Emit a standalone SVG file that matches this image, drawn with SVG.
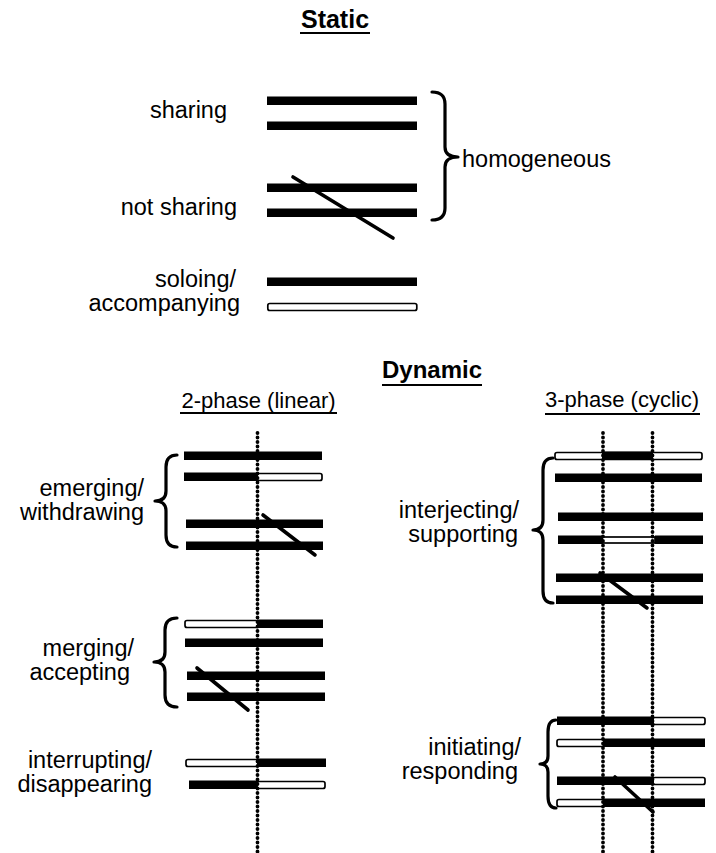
<svg xmlns="http://www.w3.org/2000/svg" width="716" height="853" viewBox="0 0 716 853">
  <style>
    text { font-family: "Liberation Sans", Arial, Helvetica, sans-serif; fill: #000; }
    .lbl { font-size: 23.5px; text-anchor: end; }
    .head { font-size: 25px; font-weight: bold; text-anchor: middle; }
    .sub { font-size: 22px; text-anchor: middle; }
    .ul { stroke: #000; stroke-width: 2.2; }
    .bk { fill: #000; }
    .wh { fill: #fff; stroke: #000; stroke-width: 1.7; }
    .slash { stroke: #000; stroke-width: 3.6; stroke-linecap: round; }
    .brace { fill: none; stroke: #000; stroke-width: 3.2; stroke-linecap: round; stroke-linejoin: round; }
    .dots { stroke: #000; stroke-width: 3.8; stroke-linecap: round; stroke-dasharray: 0 4.5; }
  </style>

  <!-- headings -->
  <g id="static-title">
    <text class="head" x="335" y="28">Static</text>
    <line class="ul" x1="300" y1="33" x2="370" y2="33"/>
  </g>
  <g id="dynamic-title">
    <text class="head" x="432" y="378" style="font-size:24px">Dynamic</text>
    <line class="ul" x1="382" y1="385" x2="482" y2="385"/>
  </g>
  <g id="two-phase-title">
    <text class="sub" x="258.5" y="408">2-phase (linear)</text>
    <line class="ul" x1="180" y1="413" x2="337" y2="413"/>
  </g>
  <g id="three-phase-title">
    <text class="sub" x="622" y="407">3-phase (cyclic)</text>
    <line class="ul" x1="545" y1="414" x2="700" y2="414"/>
  </g>

  <!-- static: sharing -->
  <g id="sharing">
    <text class="lbl" x="227" y="118">sharing</text>
    <rect class="bk" x="267" y="96.5" width="150" height="8.5"/>
    <rect class="bk" x="267" y="121.5" width="150" height="8.5"/>
  </g>
  <g id="not-sharing">
    <text class="lbl" x="237" y="215">not sharing</text>
    <rect class="bk" x="267" y="183.5" width="150" height="8.5"/>
    <rect class="bk" x="267" y="208.5" width="150" height="8.5"/>
    <line class="slash" x1="293" y1="177" x2="393" y2="238"/>
  </g>
  <g id="homogeneous">
    <path class="brace" d="M432,92 Q445,92 445,104 L445,147 Q445,157 458,157 Q445,157 445,167 L445,208 Q445,220 432,220"/>
    <text x="462" y="167" style="font-size:23.5px">homogeneous</text>
  </g>
  <g id="soloing">
    <text class="lbl" x="236" y="287">soloing/</text>
    <text class="lbl" x="240" y="311">accompanying</text>
    <rect class="bk" x="267" y="277.5" width="150" height="8.5"/>
    <rect class="wh" x="267.8" y="303.5" width="149" height="7" rx="2"/>
  </g>

  <!-- 2-phase (linear) -->
  <g id="emerging">
    <text class="lbl" x="144" y="496">emerging/</text>
    <text class="lbl" x="144" y="520">withdrawing</text>
    <path class="brace" d="M177,455 Q166,455 166,467 L166,491 Q166,501 155,501 Q166,501 166,511 L166,535 Q166,547 177,547"/>
    <rect class="bk" x="184" y="451.5" width="138" height="8.5"/>
    <rect class="wh" x="257" y="473.5" width="65" height="7" rx="2"/>
    <rect class="bk" x="184" y="472.5" width="74" height="8.5"/>
    <rect class="bk" x="186" y="519.5" width="137" height="8.5"/>
    <rect class="bk" x="186" y="541.5" width="137" height="8.5"/>
    <line class="slash" x1="263" y1="515" x2="315" y2="555"/>
  </g>
  <g id="merging">
    <text class="lbl" x="134" y="656">merging/</text>
    <text class="lbl" x="130" y="680">accepting</text>
    <path class="brace" d="M177,618 Q165,618 165,630 L165,652 Q165,662 154,662 Q165,662 165,672 L165,695 Q165,707 177,707"/>
    <rect class="wh" x="185" y="620.5" width="73" height="7" rx="2"/>
    <rect class="bk" x="257" y="619.5" width="66" height="8.5"/>
    <rect class="bk" x="185" y="638.5" width="138" height="8.5"/>
    <rect class="bk" x="187" y="671.5" width="138" height="8.5"/>
    <rect class="bk" x="187" y="692.5" width="138" height="8.5"/>
    <line class="slash" x1="197" y1="668" x2="248" y2="710"/>
  </g>
  <g id="interrupting">
    <text class="lbl" x="152" y="768">interrupting/</text>
    <text class="lbl" x="152" y="792">disappearing</text>
    <rect class="wh" x="186" y="759.5" width="72" height="7" rx="2"/>
    <rect class="bk" x="257" y="758.5" width="69" height="8.5"/>
    <rect class="bk" x="189" y="780.5" width="69" height="8.5"/>
    <rect class="wh" x="257" y="781.5" width="68" height="7" rx="2"/>
  </g>

  <!-- 3-phase (cyclic) -->
  <g id="interjecting">
    <text class="lbl" x="519" y="518">interjecting/</text>
    <text class="lbl" x="518" y="542">supporting</text>
    <path class="brace" d="M553,458 Q543,458 543,470 L543,520 Q543,530 533,530 Q543,530 543,540 L543,591 Q543,603 553,603"/>
    <rect class="wh" x="555" y="452.5" width="147" height="7" rx="2"/>
    <rect class="bk" x="602" y="451.5" width="51" height="8.5"/>
    <rect class="bk" x="555" y="473.5" width="147" height="8.5"/>
    <rect class="bk" x="558" y="512.5" width="145" height="8.5"/>
    <rect class="wh" x="602" y="537" width="53" height="6"/>
    <rect class="bk" x="558" y="535.5" width="45" height="8.5"/>
    <rect class="bk" x="655" y="535.5" width="48" height="8.5"/>
    <rect class="bk" x="556" y="573.5" width="147" height="8.5"/>
    <rect class="bk" x="556" y="595.5" width="147" height="8.5"/>
    <line class="slash" x1="600" y1="573" x2="647" y2="608"/>
  </g>
  <g id="initiating">
    <text class="lbl" x="521" y="755">initiating/</text>
    <text class="lbl" x="518" y="779">responding</text>
    <path class="brace" d="M556,720 Q548,720 548,732 L548,756 Q548,764 540,764 Q548,764 548,772 L548,796 Q548,808 556,808"/>
    <rect class="wh" x="653" y="717.5" width="52" height="7" rx="2"/>
    <rect class="bk" x="557" y="716.5" width="97" height="8.5"/>
    <rect class="wh" x="557" y="739.5" width="47" height="7" rx="2"/>
    <rect class="bk" x="603" y="738.5" width="102" height="8.5"/>
    <rect class="wh" x="653" y="777.5" width="52" height="7" rx="2"/>
    <rect class="bk" x="557" y="776.5" width="97" height="8.5"/>
    <rect class="wh" x="557" y="799.5" width="47" height="7" rx="2"/>
    <rect class="bk" x="603" y="798.5" width="102" height="8.5"/>
    <line class="slash" x1="615" y1="777" x2="653" y2="812"/>
  </g>

  <!-- phase boundaries -->
  <g id="phase-lines">
    <line class="dots" x1="257.5" y1="433" x2="257.5" y2="853"/>
    <line class="dots" x1="603" y1="433" x2="603" y2="853"/>
    <line class="dots" x1="652.5" y1="433" x2="652.5" y2="853"/>
  </g>
</svg>
